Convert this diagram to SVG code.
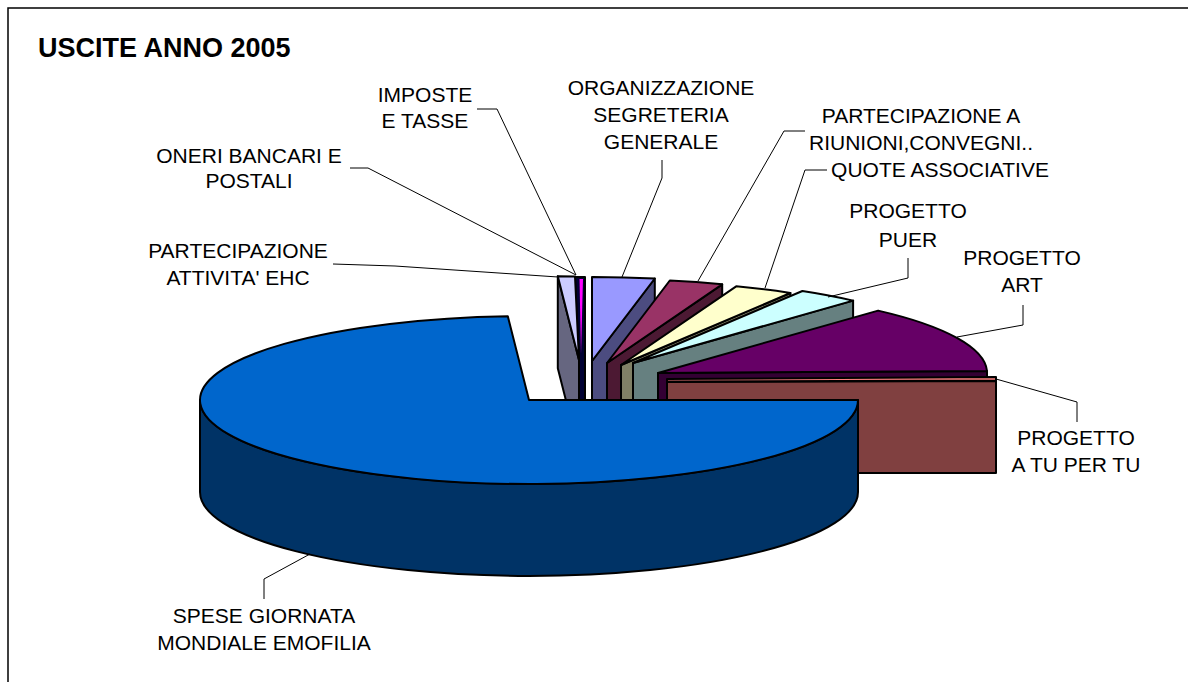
<svg xmlns="http://www.w3.org/2000/svg" width="1188" height="682" viewBox="0 0 1188 682">
<style>
.s{stroke:#000;stroke-width:2;stroke-linejoin:round}
.l{fill:none;stroke:#000;stroke-width:1}
text{font-family:"Liberation Sans",Arial,sans-serif;font-size:21px;fill:#000;text-anchor:middle}
.t{font-weight:bold;font-size:27px;text-anchor:start}
</style>
<rect x="0" y="0" width="1188" height="682" fill="#fff"/>
<rect x="8" y="8" width="1200" height="700" fill="#fff" stroke="#000" stroke-width="1.5"/>
<text class="t" x="38" y="57">USCITE ANNO 2005</text>

<g id="organizzazione">
<path class="s" fill="#4C4C80" d="M592,361 L654.8,278.5 L654.8,370.5 L592,453 Z"/>
<path class="s" fill="#9999FF" d="M592,361 L654.8,278.5 A329,84 0 0,0 592,277 Z"/>
</g>
<g id="riunioni">
<path class="s" fill="#4C1933" d="M607,363 L722.2,284.3 L722.2,376.3 L607,455 Z"/>
<path class="s" fill="#993366" d="M607,363 L722.2,284.3 A329,84 0 0,0 669.8,280.5 Z"/>
</g>
<g id="quote">
<path class="s" fill="#808066" d="M621,365 L790.4,293 L790.4,385 L621,457 Z"/>
<path class="s" fill="#FFFFCC" d="M621,365 L790.4,293 A329,84 0 0,0 736.2,286.3 Z"/>
</g>
<g id="puer">
<path class="s" fill="#668080" d="M633,363 L853.1,300.6 L853.1,392.6 L633,455 Z"/>
<path class="s" fill="#CCFFFF" d="M633,363 L853.1,300.6 A329,84 0 0,0 802.4,291 Z"/>
</g>
<g id="art">
<path class="s" fill="#330033" d="M658,373 L987,371 L987,463 L658,465 Z"/>
<path class="s" fill="#660066" d="M658,373 L987,371 A329,84 0 0,0 878.1,310.6 Z"/>
</g>
<g id="atupertu">
<path class="s" fill="#804040" d="M667,382 L996,381 L996,473 L667,473 Z"/>
<path class="s" fill="#FF8080" stroke-width="1" d="M667,381.5 L996,380.5 L996,377 L667,379 Z"/>
</g>
<g id="oneri">
<path class="s" fill="#000033" d="M575,277 L585,277 L585,400 L579,400 L579,360 Z"/>
</g>
<g id="imposte">
<path fill="#FF00FF" d="M579.5,279 L583,279 L581,354 Z"/>
</g>
<g id="ehc">
<path class="s" fill="#666680" d="M579,360 L557.8,276.2 L557.8,368.2 L579,452 Z"/>
<path class="s" fill="#CCCCFF" d="M579,360 L557.8,276.2 L575,276.5 Z"/>
</g>
<g id="spese">
<path class="s" fill="#003366" d="M200,400 A329,84 0 0,0 858,400 L858,492 A329,84 0 0,1 200,492 Z"/>
<path class="s" fill="#0066CC" d="M529,400 L507.8,316.2 A329,84 0 1,0 858,400 Z"/>
</g>

<g id="connectors">
<polyline class="l" points="477,109 497,109 576,275"/>
<polyline class="l" points="350,168 368,168 576,275"/>
<polyline class="l" points="333,264 395,266 558,277"/>
<polyline class="l" points="662,160 662,178 622,277"/>
<polyline class="l" points="805,131 784,131 698,281"/>
<polyline class="l" points="827,170 805,170 765,288"/>
<polyline class="l" points="908,258 908,278 828,297"/>
<polyline class="l" points="1023,305 1023,325 957,337"/>
<polyline class="l" points="996,379 1077,402 1077,422"/>
<polyline class="l" points="264,599 264,579 310,554"/>
</g>

<g id="labels">
<text x="425" y="102">IMPOSTE</text>
<text x="425" y="128">E TASSE</text>
<text x="249" y="163">ONERI BANCARI E</text>
<text x="249" y="188">POSTALI</text>
<text x="238" y="258">PARTECIPAZIONE</text>
<text x="238" y="285">ATTIVITA' EHC</text>
<text x="661" y="95">ORGANIZZAZIONE</text>
<text x="661" y="122">SEGRETERIA</text>
<text x="661" y="149">GENERALE</text>
<text x="921" y="123">PARTECIPAZIONE A</text>
<text x="921" y="150">RIUNIONI,CONVEGNI..</text>
<text x="940" y="177">QUOTE ASSOCIATIVE</text>
<text x="908" y="218">PROGETTO</text>
<text x="908" y="247">PUER</text>
<text x="1022" y="265">PROGETTO</text>
<text x="1022" y="292">ART</text>
<text x="1076" y="445">PROGETTO</text>
<text x="1076" y="472">A TU PER TU</text>
<text x="264" y="623">SPESE GIORNATA</text>
<text x="264" y="650">MONDIALE EMOFILIA</text>
</g>
</svg>
